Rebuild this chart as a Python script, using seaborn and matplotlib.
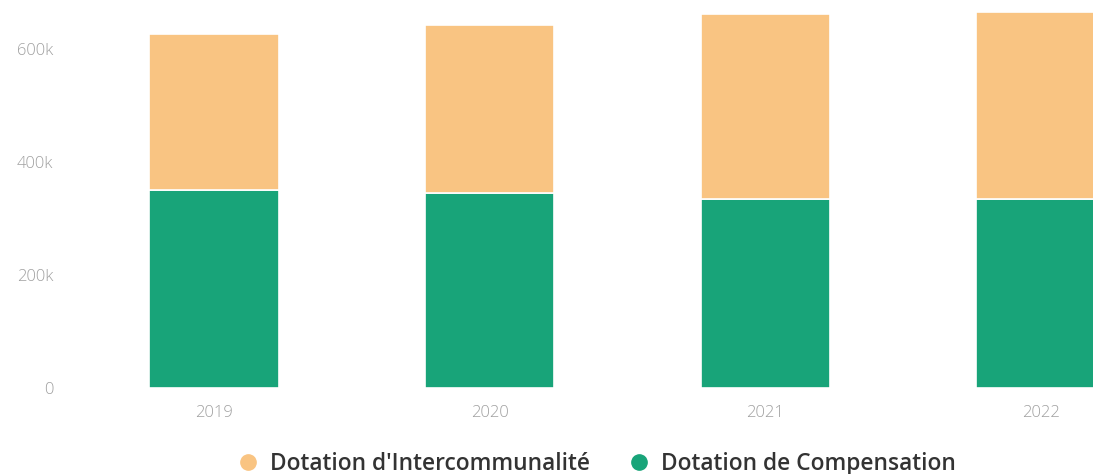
import matplotlib
matplotlib.use("Agg")
import matplotlib.pyplot as plt
from matplotlib.lines import Line2D
import seaborn as sns
import pandas as pd

years = ["2019", "2020", "2021", "2022"]
intercommunalite = [276000, 298000, 327000, 330000]
compensation = [350000, 345000, 335000, 335000]
y_ticks = [0, 200000, 400000, 600000]
y_tick_labels = ["0", "200k", "400k", "600k"]
series_names = ["Dotation d'Intercommunalité", "Dotation de Compensation"]

c_orange = "#f9c482"
c_green = "#18a479"
c_tick = "#a0a0a0"

sns.set_theme(style="white")
plt.rcParams['font.family'] = ['Open Sans', 'DejaVu Sans']

df = pd.DataFrame({"year": years, "inter": intercommunalite, "comp": compensation})

W, H = 1093, 474
fig = plt.figure(figsize=(W / 100, H / 100), dpi=100)
ax = fig.add_axes([76 / W, (H - 388) / H, 1103 / W, (680 / 200 * 113) / H])

sns.barplot(data=df, x="year", y="comp", color=c_green, width=0.47,
            edgecolor="white", linewidth=1.2, saturation=1, ax=ax)
sns.barplot(data=df, x="year", y="inter", bottom=df["comp"].to_numpy(), color=c_orange,
            width=0.47, edgecolor="white", linewidth=1.2, saturation=1, ax=ax)

ax.set_xlim(-0.5, 3.5)
ax.set_ylim(0, 680000)
ax.set_yticks(y_ticks)
ax.set_yticklabels(y_tick_labels)
ax.set_xlabel("")
ax.set_ylabel("")
for s in ax.spines.values():
    s.set_visible(False)
ax.tick_params(axis="y", length=0, pad=16.5, labelsize=12, labelcolor=c_tick)
ax.tick_params(axis="x", length=0, pad=12, labelsize=12, labelcolor=c_tick)
for lab in ax.get_xticklabels() + ax.get_yticklabels():
    lab.set_fontweight("light")
ax.grid(False)

# legend, font sized to fit the measured text width
fs_px = 22.0
target_w = 321.0
renderer = fig.canvas.get_renderer()
from matplotlib.text import Text
for _ in range(3):
    t = Text(0, 0, series_names[0], fontsize=fs_px * 72 / 100, fontweight="semibold",
             fontfamily=['Open Sans', 'DejaVu Sans'], figure=fig)
    w = t.get_window_extent(renderer).width
    fs_px *= target_w / w

handles = [Line2D([], [], marker="o", linestyle="", markersize=11, color=c_orange),
           Line2D([], [], marker="o", linestyle="", markersize=11, color=c_green)]
fig.legend(handles, series_names, loc="center", bbox_to_anchor=(596 / W, 10 / H),
           ncol=2, frameon=False, handlelength=1.0, handletextpad=(22 - fs_px / 2) / fs_px,
           columnspacing=(49 - fs_px / 2) / fs_px, borderpad=0, borderaxespad=0,
           prop={"size": fs_px * 72 / 100, "weight": "semibold"}, labelcolor="#333333")

fig.savefig("out.png", dpi=100)
